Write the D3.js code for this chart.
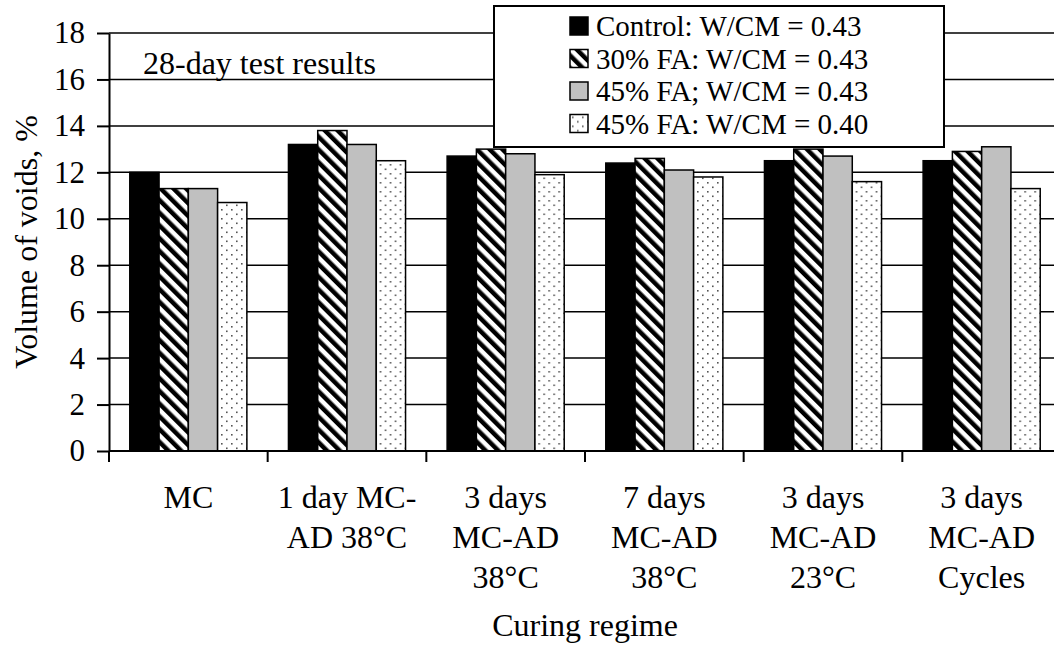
<!DOCTYPE html>
<html>
<head>
<meta charset="utf-8">
<script src="https://cdn.jsdelivr.net/npm/d3@7"></script>
<style>
  body { margin: 0; background: #fff; }
  svg { display: block; font-family: "Liberation Serif", "Times New Roman", serif; }
</style>
</head>
<body>
<script>
// data
const categories = ["MC", "1d38", "3d38", "7d38", "3d23", "3dcyc"];
const catLabels = [
  ["MC"],
  ["1 day MC-", "AD 38°C"],
  ["3 days", "MC-AD", "38°C"],
  ["7 days", "MC-AD", "38°C"],
  ["3 days", "MC-AD", "23°C"],
  ["3 days", "MC-AD", "Cycles"]
];
const seriesNames = ["Control: W/CM = 0.43", "30% FA: W/CM = 0.43", "45% FA; W/CM = 0.43", "45% FA: W/CM = 0.40"];
const control = [12.0, 13.2, 12.7, 12.4, 12.5, 12.5];
const fa30 = [11.3, 13.8, 13.0, 12.6, 13.0, 12.9];
const fa45 = [11.3, 13.2, 12.8, 12.1, 12.7, 13.1];
const fa45low = [10.7, 12.5, 11.9, 11.8, 11.6, 11.3];
const yTicks = [0, 2, 4, 6, 8, 10, 12, 14, 16, 18];

const series = [control, fa30, fa45, fa45low];
const fills = ["#000", "url(#hatch)", "#c0c0c0", "url(#dots)"];

const W = 1054, H = 649;
const svg = d3.select("body").append("svg").attr("width", W).attr("height", H);

// patterns
const defs = svg.append("defs");
const hatch = defs.append("pattern").attr("id", "hatch")
  .attr("patternUnits", "userSpaceOnUse").attr("width", 9).attr("height", 9)
  .attr("patternTransform", "rotate(-45)");
hatch.append("rect").attr("width", 9).attr("height", 9).attr("fill", "#fff");
hatch.append("rect").attr("x", 0).attr("width", 4.5).attr("height", 9).attr("fill", "#000");

const dots = defs.append("pattern").attr("id", "dots")
  .attr("patternUnits", "userSpaceOnUse").attr("width", 10).attr("height", 9);
dots.append("rect").attr("width", 10).attr("height", 9).attr("fill", "#fff");
dots.append("rect").attr("x", 2).attr("y", 2).attr("width", 1.6).attr("height", 1.6).attr("fill", "#555");
dots.append("rect").attr("x", 7).attr("y", 6.5).attr("width", 1.6).attr("height", 1.6).attr("fill", "#555");

const pLeft = 109, pRight = 1061, pTop = 33, pBottom = 451;

const y = d3.scaleLinear().domain([0, 18]).range([pBottom, pTop]);
const x0 = d3.scaleBand().domain(categories).range([pLeft, pRight]).padding(0);
const x1 = d3.scaleBand().domain(d3.range(series.length))
  .range([0, x0.bandwidth()]).paddingInner(0).paddingOuter(0.71);

// gridlines
svg.append("g").selectAll("line").data(yTicks.filter(d => d > 0)).join("line")
  .attr("x1", pLeft).attr("x2", W)
  .attr("y1", d => y(d)).attr("y2", d => y(d))
  .attr("stroke", "#000").attr("stroke-width", 1.5);

// 28-day note
svg.append("text").attr("x", 143).attr("y", 74)
  .attr("font-size", 32).text("28-day test results");

// bars
const groups = svg.append("g").selectAll("g").data(categories).join("g")
  .attr("transform", d => `translate(${x0(d)},0)`);
groups.selectAll("rect")
  .data((c, i) => series.map((s, k) => ({ k, v: s[i] })))
  .join("rect")
  .attr("x", d => x1(d.k))
  .attr("width", x1.bandwidth())
  .attr("y", d => y(d.v))
  .attr("height", d => y(0) - y(d.v))
  .attr("fill", d => fills[d.k])
  .attr("stroke", "#000").attr("stroke-width", 1.5);

// y axis
const yAxis = svg.append("g").attr("transform", `translate(${pLeft},0)`)
  .call(d3.axisLeft(y).tickValues(yTicks).tickSize(12).tickPadding(12).tickSizeOuter(0));
yAxis.select(".domain").attr("stroke-width", 2);
yAxis.selectAll(".tick line").attr("stroke-width", 2);
yAxis.selectAll(".tick text").attr("font-size", 31)
  .attr("font-family", "Liberation Serif, Times New Roman, serif").attr("fill", "#000");

// x axis: line plus ticks at category boundaries
const bounds = categories.map(c => x0(c)).concat([pRight]);
const xAxis = svg.append("g").attr("transform", `translate(0,${pBottom})`);
xAxis.append("line").attr("x1", pLeft).attr("x2", W).attr("stroke", "#000").attr("stroke-width", 2);
xAxis.selectAll(".bt").data(bounds).join("line").attr("class", "bt")
  .attr("x1", d => d).attr("x2", d => d).attr("y1", 0).attr("y2", 11)
  .attr("stroke", "#000").attr("stroke-width", 2);

// category labels
const lab = svg.append("g").selectAll("text").data(categories).join("text")
  .attr("text-anchor", "middle").attr("font-size", 32)
  .attr("x", d => x0(d) + x0.bandwidth() / 2);
lab.selectAll("tspan").data((c, i) => catLabels[i]).join("tspan")
  .attr("x", function() { return d3.select(this.parentNode).attr("x"); })
  .attr("y", (d, i) => 508 + i * 40)
  .text(d => d);

// axis titles
svg.append("text").attr("x", (pLeft + pRight) / 2).attr("y", 636)
  .attr("text-anchor", "middle").attr("font-size", 32).text("Curing regime");
svg.append("text")
  .attr("transform", `translate(37,${(pTop + pBottom) / 2}) rotate(-90)`)
  .attr("text-anchor", "middle").attr("font-size", 32).text("Volume of voids, %");

// legend
const lg = svg.append("g");
lg.append("rect").attr("x", 494).attr("y", 6).attr("width", 450).attr("height", 141)
  .attr("fill", "#fff").attr("stroke", "#000").attr("stroke-width", 2);
const items = lg.selectAll("g").data(seriesNames).join("g")
  .attr("transform", (d, i) => `translate(570,${26 + i * 32.5})`);
items.append("rect").attr("x", 0).attr("y", -9).attr("width", 18).attr("height", 18)
  .attr("fill", (d, i) => fills[i]).attr("stroke", "#000").attr("stroke-width", 1.5);
items.append("text").attr("x", 26).attr("y", 10).attr("font-size", 29).text(d => d);
</script>
</body>
</html>
